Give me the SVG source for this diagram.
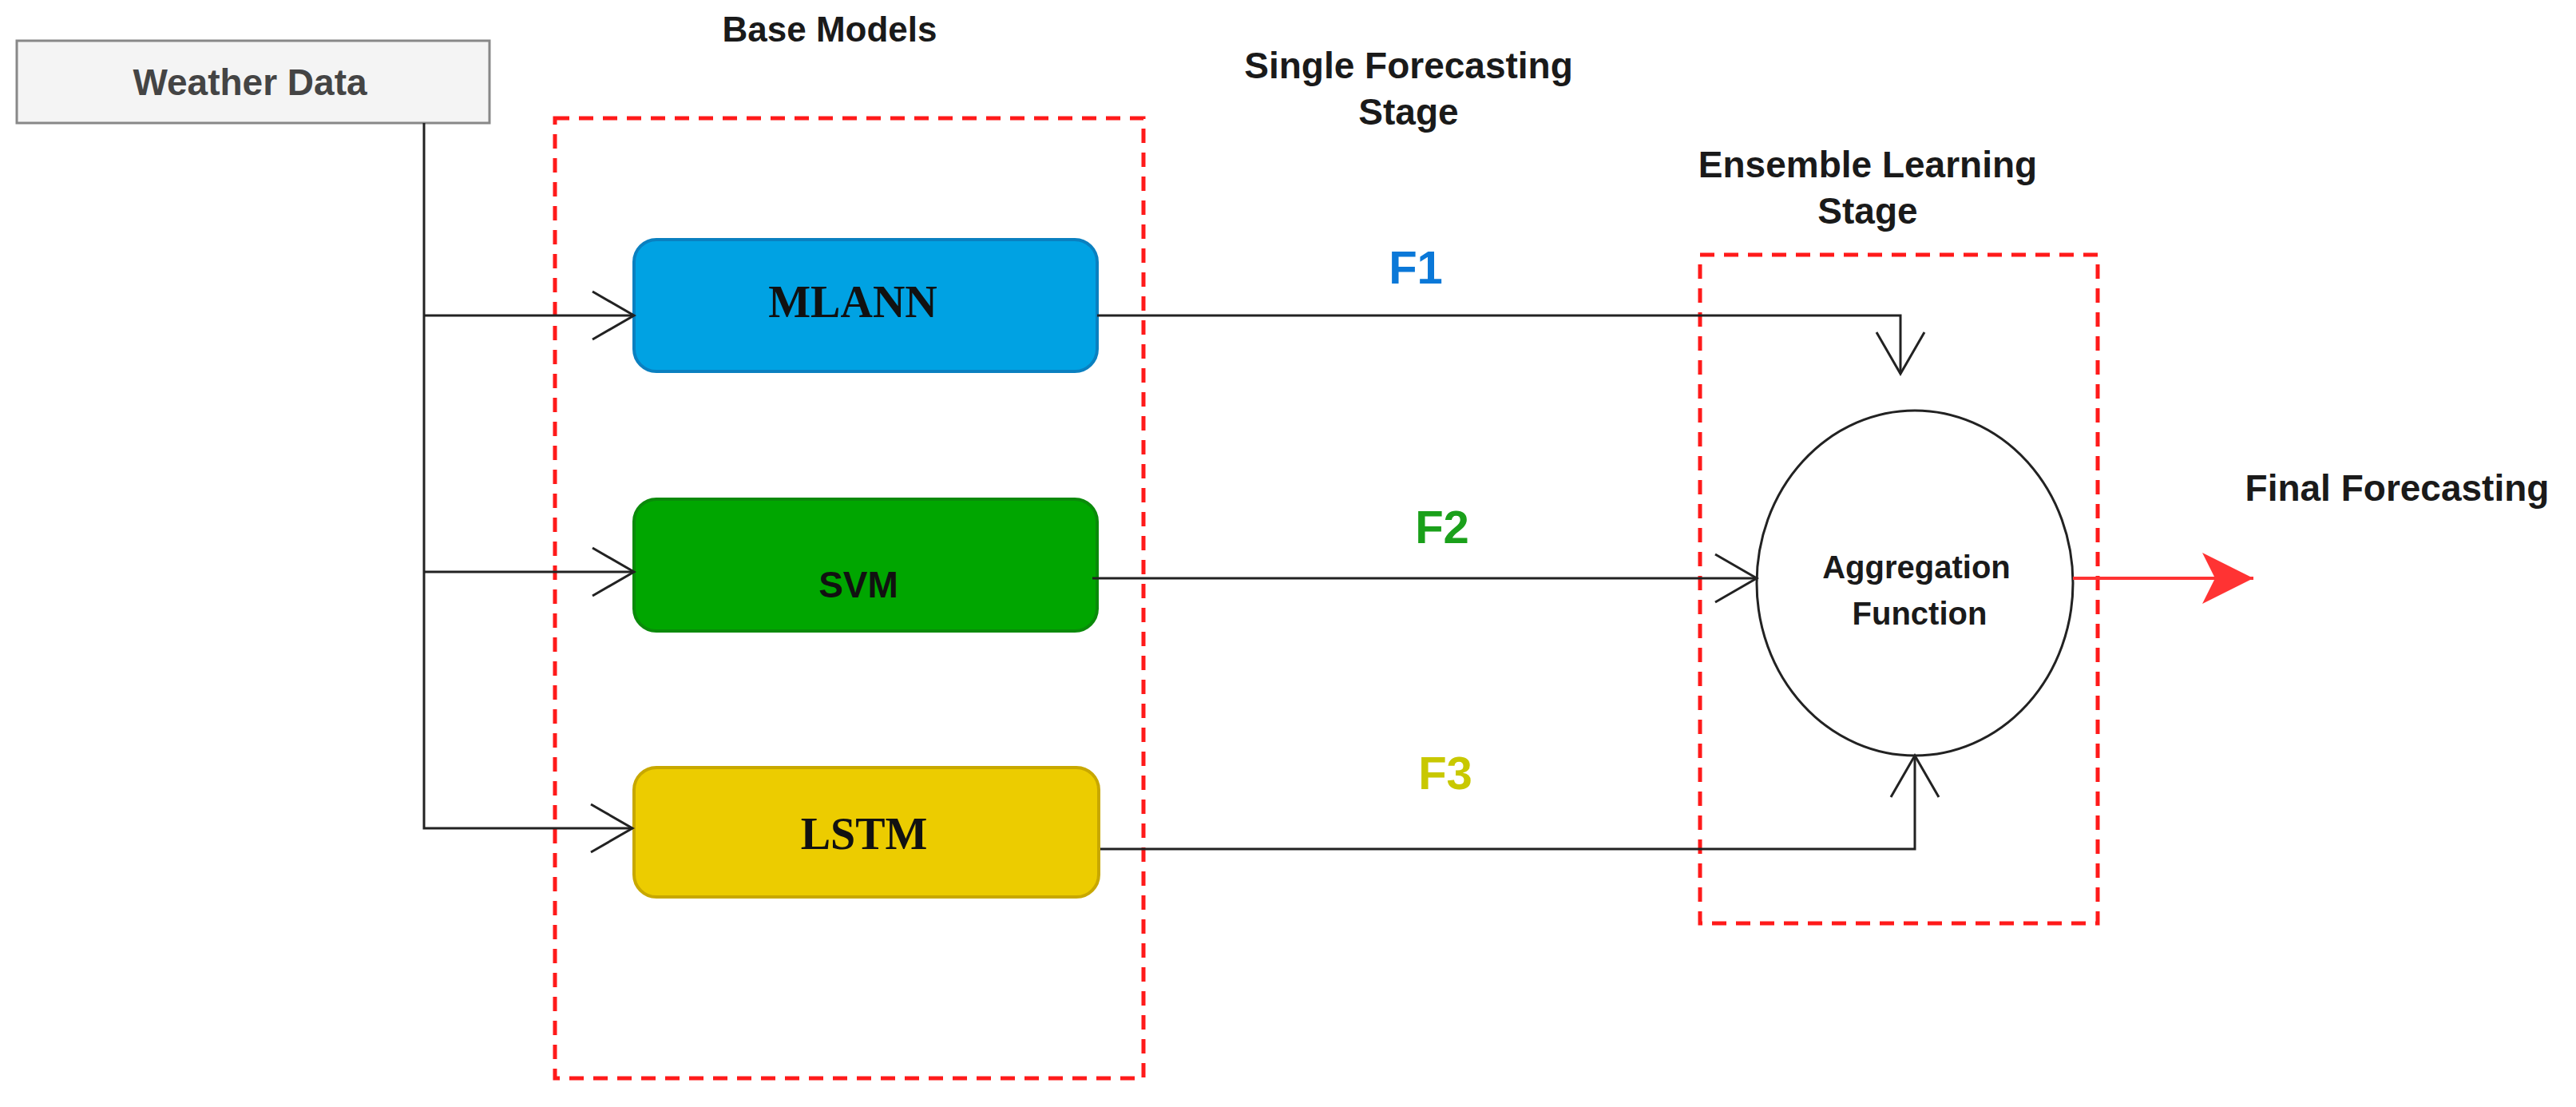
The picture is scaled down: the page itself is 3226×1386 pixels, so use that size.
<svg xmlns="http://www.w3.org/2000/svg" width="3226" height="1386" viewBox="0 0 3226 1386">
<style>
.t{font-family:"Liberation Sans",Arial,sans-serif;font-weight:bold;text-anchor:middle;fill:#1a1a1a}
.s{font-family:"Liberation Serif","Times New Roman",serif;font-weight:bold;text-anchor:middle;fill:#111}
.grp{fill:none;stroke:#ff1a1a;stroke-width:5;stroke-dasharray:18 12}
.c{fill:none;stroke:#222;stroke-width:3}
</style>
<defs>
<marker id="oa" markerWidth="60" markerHeight="70" refX="54" refY="32" orient="auto" markerUnits="userSpaceOnUse"><path d="M2,2 L54,32 L2,62" fill="none" stroke="#222" stroke-width="3"/></marker>
<marker id="ra" markerWidth="80" markerHeight="80" refX="64" refY="40" orient="auto" markerUnits="userSpaceOnUse"><path d="M0,8 L64,40 L0,72 L16,40 Z" fill="#ff3333"/></marker>
</defs>
<rect width="3226" height="1386" fill="#fff"/>
<g id="weather"><rect x="21" y="51" width="592" height="103" fill="#f4f4f4" stroke="#888" stroke-width="3"/><text class="t" x="313" y="119" font-size="46" style="fill:#444">Weather Data</text></g>
<g id="base-models"><rect class="grp" x="695" y="148" width="737" height="1202"/></g>
<text class="t" x="1039" y="52" font-size="44">Base Models</text>
<g id="mlann"><rect x="794" y="300" width="580" height="165" rx="28" fill="#00a2e3" stroke="#0a80c0" stroke-width="4"/><text class="s" x="1068" y="397" font-size="56">MLANN</text></g>
<g id="svm"><rect x="794" y="625" width="580" height="165" rx="28" fill="#00a600" stroke="#0a8a0a" stroke-width="4"/><text class="t" x="1075" y="748" font-size="46" style="fill:#111">SVM</text></g>
<g id="lstm"><rect x="794" y="961" width="582" height="162" rx="28" fill="#eccc00" stroke="#c8a800" stroke-width="4"/><text class="s" x="1082" y="1063" font-size="56">LSTM</text></g>
<g id="ensemble"><rect class="grp" x="2129" y="319" width="498" height="837"/></g>
<g id="aggregation"><ellipse cx="2398" cy="730" rx="198" ry="216" fill="#fff" stroke="#222" stroke-width="3"/><text class="t" x="2400" y="724" font-size="40">Aggregation</text><text class="t" x="2404" y="782" font-size="40">Function</text></g>
<text class="t" x="1764" y="98" font-size="46">Single Forecasting</text>
<text class="t" x="1764" y="156" font-size="46">Stage</text>
<text class="t" x="2339" y="222" font-size="46">Ensemble Learning</text>
<text class="t" x="2339" y="280" font-size="46">Stage</text>
<text class="t" x="3002" y="627" font-size="46">Final Forecasting</text>
<text class="t" x="1773" y="355" font-size="58" style="fill:#0a78d8">F1</text>
<text class="t" x="1806" y="680" font-size="58" style="fill:#1aa01a">F2</text>
<text class="t" x="1810" y="988" font-size="58" style="fill:#c8c800">F3</text>
<g id="connectors">
<path class="c" d="M531,154 V1037 H792" marker-end="url(#oa)"/>
<path class="c" d="M531,395 H794" marker-end="url(#oa)"/>
<path class="c" d="M531,716 H794" marker-end="url(#oa)"/>
<path class="c" d="M1374,395 H2380 V468" marker-end="url(#oa)"/>
<path class="c" d="M1368,724 H2200" marker-end="url(#oa)"/>
<path class="c" d="M1378,1063 H2398 V946" marker-end="url(#oa)"/>
<path d="M2596,724 H2822" stroke="#ff3333" stroke-width="4" fill="none" marker-end="url(#ra)"/>
</g>
</svg>
